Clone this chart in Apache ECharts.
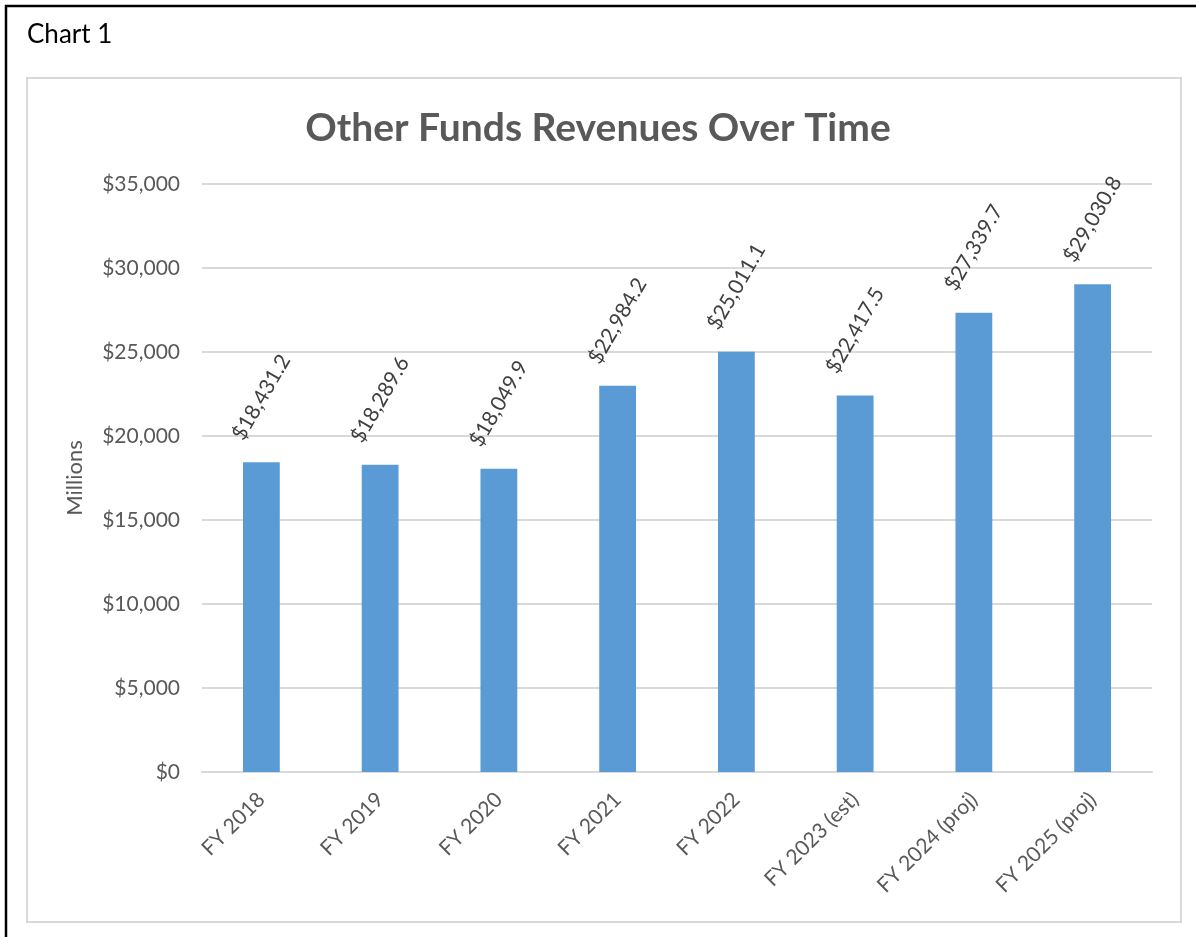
<!DOCTYPE html>
<html lang="en">
<head>
    <meta charset="UTF-8">
    <title>Other Funds Revenues Over Time</title>
    <script src="https://cdn.jsdelivr.net/npm/echarts@6/dist/echarts.min.js"></script>
    <style>
        html, body { margin: 0; padding: 0; background: #fff; }
    </style>
</head>
<body>
<div id="main" style="width: 1196px;height:937px;"></div>
<script>
    // data (millions of dollars)
    var years = ['FY 2018', 'FY 2019', 'FY 2020', 'FY 2021', 'FY 2022',
                 'FY 2023 (est)', 'FY 2024 (proj)', 'FY 2025 (proj)'];
    var revenues = [18431.2, 18289.6, 18049.9, 22984.2, 25011.1, 22417.5, 27339.7, 29030.8];
    var yTicks = [0, 5000, 10000, 15000, 20000, 25000, 30000, 35000];

    var font = 'Lato, "Open Sans", sans-serif';
    var myChart = echarts.init(document.getElementById('main'));

    function money(v, digits) {
        return '$' + v.toLocaleString('en-US', {minimumFractionDigits: digits, maximumFractionDigits: digits});
    }

    var option = {
        backgroundColor: '#fff',
        animation: false,
        title: {
            text: 'Other Funds Revenues Over Time',
            left: 'center',
            top: 104,
            textStyle: { color: '#595959', fontSize: 39, fontWeight: 'bold', fontFamily: font }
        },
        graphic: [
            // page frame (only top and left edges visible)
            { type: 'line', shape: { x1: 5, y1: 6, x2: 1196, y2: 6 }, style: { stroke: '#000', lineWidth: 2.5 } },
            { type: 'line', shape: { x1: 6, y1: 5, x2: 6, y2: 937 }, style: { stroke: '#000', lineWidth: 2.5 } },
            { type: 'text', left: 27, top: 22, style: { text: 'Chart 1', fill: '#000', font: '26px ' + font } },
            // chart area border
            { type: 'rect', shape: { x: 27, y: 78, width: 1154, height: 844 },
              style: { fill: 'none', stroke: '#D9D9D9', lineWidth: 2 }, z: -1 }
        ],
        grid: { left: 202, right: 44, top: 184, bottom: 165 },
        xAxis: {
            type: 'category',
            data: years,
            axisLine: { lineStyle: { color: '#D9D9D9', width: 2 } },
            axisTick: { show: false },
            axisLabel: { rotate: 45, margin: 24, color: '#595959', fontSize: 21, fontFamily: font, interval: 0 }
        },
        yAxis: {
            type: 'value',
            min: yTicks[0],
            max: yTicks[yTicks.length - 1],
            interval: 5000,
            name: 'Millions',
            nameLocation: 'middle',
            nameGap: 116,
            nameTextStyle: { color: '#595959', fontSize: 22, fontFamily: font },
            axisLine: { show: false },
            axisTick: { show: false },
            splitLine: { lineStyle: { color: '#D9D9D9', width: 2 } },
            axisLabel: {
                margin: 22,
                color: '#595959', fontSize: 21, fontFamily: font,
                formatter: function (v) { return money(v, 0); }
            }
        },
        series: [{
            type: 'bar',
            data: revenues,
            barWidth: '31%',
            itemStyle: { color: '#5B9BD5' },
            label: {
                show: true,
                position: ['50%', -65],
                rotate: 60,
                align: 'center',
                verticalAlign: 'middle',
                color: '#404040',
                fontSize: 21,
                fontFamily: font,
                formatter: function (p) { return money(p.value, 1); }
            }
        }]
    };

    myChart.setOption(option);
</script>
</body>
</html>
